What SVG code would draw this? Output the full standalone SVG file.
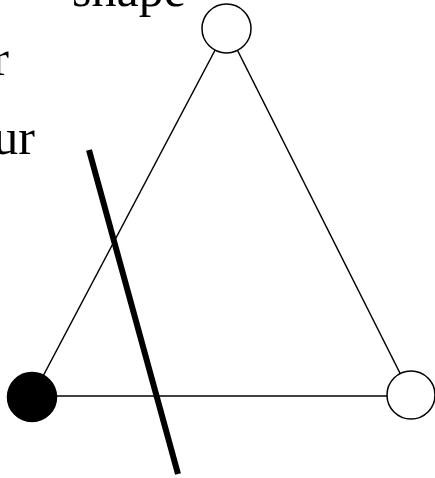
<svg xmlns="http://www.w3.org/2000/svg" width="435" height="478" viewBox="0 0 435 478">
<style>
.lbl{font-family:"Liberation Serif","Times New Roman",serif;font-size:50px;fill:#000}
.edge{stroke:#000;stroke-width:1.5;fill:none}
.node{stroke:#000;stroke-width:1.5}
</style>
<rect width="435" height="478" fill="#fff"/>
<g id="labels">
<text class="lbl" x="72" y="6">shape</text>
<text class="lbl" x="9" y="75" text-anchor="end">r</text>
<text class="lbl" x="35" y="154" text-anchor="end">ur</text>
</g>
<g id="connectors">
<line class="edge" x1="226.5" y1="28.5" x2="32" y2="397"/>
<line class="edge" x1="226.5" y1="28.5" x2="411" y2="395"/>
<line class="edge" x1="32" y1="396" x2="411" y2="396"/>
<line id="cut" x1="89" y1="150" x2="178" y2="474" stroke="#000" stroke-width="6"/>
</g>
<g id="node-top"><circle class="node" cx="226.5" cy="28.5" r="24.5" fill="#fff"/></g>
<g id="node-left"><circle class="node" cx="32" cy="397" r="24.5" fill="#000"/></g>
<g id="node-right"><circle class="node" cx="411" cy="395" r="24" fill="#fff"/></g>
</svg>
